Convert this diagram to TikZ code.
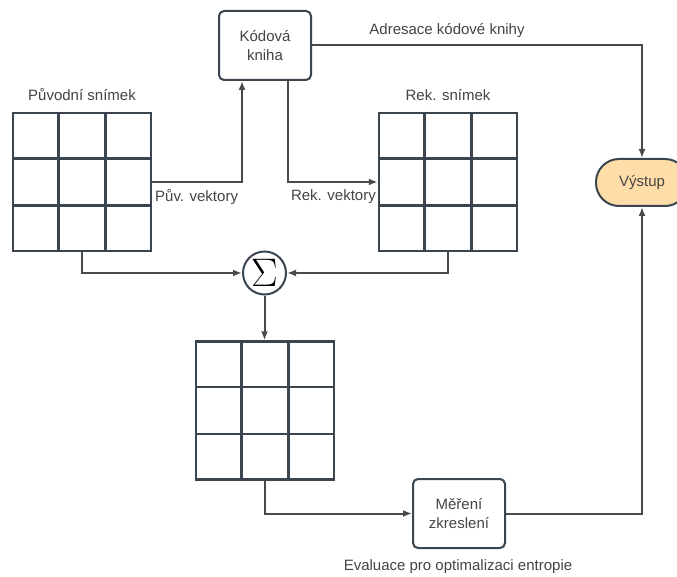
\documentclass[tikz,border=0pt]{standalone}
\usepackage{graphicx}
\usepackage{fontspec}
\setmainfont{Liberation Sans}
\usetikzlibrary{arrows.meta,calc}
\definecolor{linec}{HTML}{4A4A4A}
\definecolor{gridc}{HTML}{3A4550}
\definecolor{txtc}{HTML}{444444}
\definecolor{peach}{HTML}{FFDDA8}
\tikzset{
  box/.style={draw=gridc, line width=2pt, rounded corners=5pt, fill=white,
    minimum width=92pt, minimum height=69pt, align=center, text=txtc,
    font=\fontsize{15}{19}\selectfont},
  pill/.style={draw=gridc, line width=2pt, rounded corners=23pt, fill=peach,
    minimum width=92pt, minimum height=47pt, text=txtc,
    font=\fontsize{15}{19}\selectfont},
  sumc/.style={circle, draw=gridc, line width=2pt, fill=white, minimum size=43pt, inner sep=0pt},
  gridbox/.style={draw=gridc, line width=2.5pt, minimum size=138pt, inner sep=0pt},
  conn/.style={draw=linec, line width=2pt, -{Latex[length=9pt,width=7pt]}},
  lbl/.style={text=txtc, font=\fontsize{15}{18}\selectfont, inner sep=0pt},
}
\newcommand{\gridlines}[1]{%
  \draw[gridc, line width=2.5pt]
    ($(#1.north west)!1/3!(#1.north east)$) -- ($(#1.south west)!1/3!(#1.south east)$)
    ($(#1.north west)!2/3!(#1.north east)$) -- ($(#1.south west)!2/3!(#1.south east)$)
    ($(#1.north west)!1/3!(#1.south west)$) -- ($(#1.north east)!1/3!(#1.south east)$)
    ($(#1.north west)!2/3!(#1.south west)$) -- ($(#1.north east)!2/3!(#1.south east)$);}
\begin{document}
\begin{tikzpicture}[x=1pt,y=-1pt]
\useasboundingbox[fill=white] (0,0) rectangle (677,577);

\node[box] (kb) at (265,45.5) {Kódová\\kniha};
\node[pill] (vys) at (642,182.5) {Výstup};
\node[sumc] (sig) at (264.5,273) {\scalebox{1.6}{\fontsize{24.88}{25}\selectfont$\Sigma$}};
\node[box] (mer) at (459,513.5) {Měření\\zkreslení};

\node[gridbox] (orig) at (82,182) {};
\node[gridbox] (rek) at (448,182) {};
\node[gridbox] (bot) at (265,410.5) {};
\gridlines{orig}
\gridlines{rek}
\gridlines{bot}

\node[lbl] (lorig) at (82,95) {Původní snímek};
\node[lbl] (lrek) at (448,95) {Rek. snímek};
\node[lbl] (ladr) at (447,31) {Adresace kódové knihy};
\node[lbl, anchor=west] (lpuv) at (155,197) {Pův. vektory};
\node[lbl, anchor=east] (lrv) at (376,197) {Rek. vektory};
\node[lbl] (leval) at (458,567) {Evaluace pro optimalizaci entropie};

\draw[conn] (kb.east) -| (vys.north);
\draw[conn] (orig.east) -| ([xshift=-23pt]kb.south);
\draw[conn] ([xshift=23pt]kb.south) |- (rek.west);
\draw[conn] (orig.south) |- (sig.west);
\draw[conn] (rek.south) |- (sig.east);
\draw[conn] (sig.south) -- (sig.south |- bot.north);
\draw[conn] (bot.south) |- (mer.west);
\draw[conn] (mer.east) -| (vys.south);
\end{tikzpicture}
\end{document}
